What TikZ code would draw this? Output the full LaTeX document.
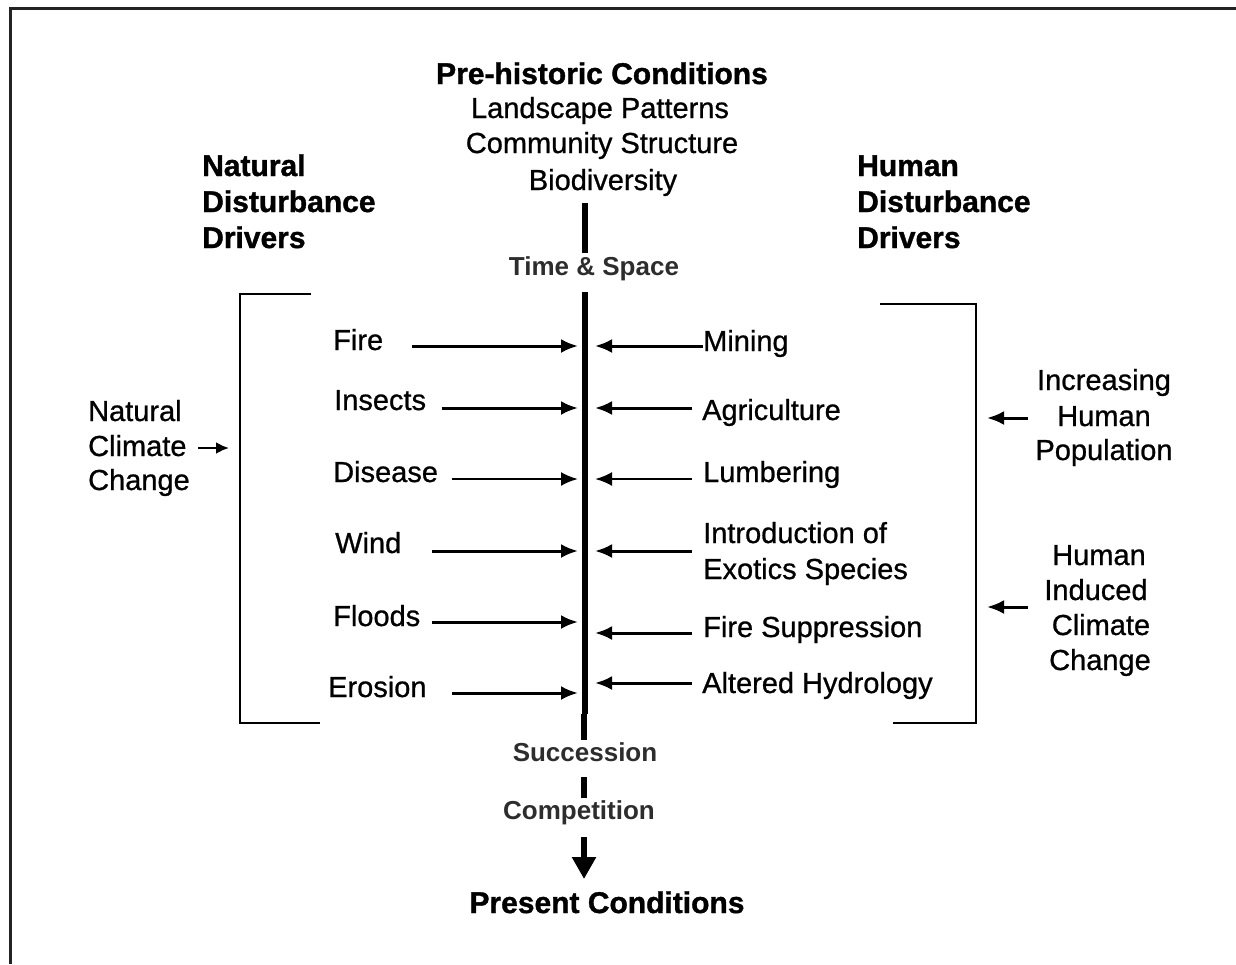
\documentclass[tikz,border=0pt]{standalone}
\usepackage{fontspec}
\setmainfont{Liberation Sans}
\newfontfamily\lblfont{Liberation Sans}[FakeBold=0.8]
\newfontfamily\hdfont{Liberation Sans Bold}[FakeBold=1.2]
\usetikzlibrary{arrows.meta}
\definecolor{dgray}{RGB}{45,45,45}
\definecolor{frame}{RGB}{35,35,35}
\begin{document}
\begin{tikzpicture}[x=1pt,y=-1pt,
  lbl/.style={font=\lblfont\fontsize{29}{35}\selectfont, inner sep=0pt},
  hd/.style={font=\hdfont\fontsize{30}{36}\selectfont, inner sep=0pt},
  sm/.style={font=\fontsize{26}{30}\selectfont\bfseries, text=dgray, inner sep=0pt},
  arr/.style={line width=3pt, -{Latex[length=17pt,width=14pt]}},
  spine/.style={line width=6pt},
  brk/.style={line width=2pt}]
\useasboundingbox (0,0) rectangle (1236,964);
% frame (top and left edges)
\draw[line width=3pt, frame] (10,964) -- (10,8) -- (1236,8);

% top block
\node[hd, anchor=base] (pre) at (602,84) {Pre-historic Conditions};
\node[lbl, anchor=base] (land) at (600,118) {Landscape Patterns};
\node[lbl, anchor=base] (comm) at (602,153) {Community Structure};
\node[lbl, anchor=base] (bio) at (603,190) {Biodiversity};

% side headings
\node[hd, anchor=base west] (nd1) at (202,176) {Natural};
\node[hd, anchor=base west] (nd2) at (202,212) {Disturbance};
\node[hd, anchor=base west] (nd3) at (202,248) {Drivers};
\node[hd, anchor=base west] (hd1) at (857,176) {Human};
\node[hd, anchor=base west] (hd2) at (857,212) {Disturbance};
\node[hd, anchor=base west] (hd3) at (857,248) {Drivers};

% spine labels
\node[sm, anchor=base] (ts) at (594,275) {Time \& Space};
\node[sm, anchor=base] (succ) at (585,761) {Succession};
\node[sm, anchor=base] (comp) at (579,819) {Competition};
\node[hd, anchor=base] (present) at (607,913) {Present Conditions};

% spine
\coordinate (s0) at (585,203);
\coordinate (s1) at (585,253);
\coordinate (s2) at (585,292);
\coordinate (s3) at (585,714);
\coordinate (s4) at (584,714);
\coordinate (s5) at (584,740);
\coordinate (s6) at (584,777);
\coordinate (s7) at (584,798);
\coordinate (s8) at (584,837);
\coordinate (s9) at (584,879);
\draw[spine] (s0) -- (s1);
\draw[spine] (s2) -- (s3);
\draw[spine] (s4) -- (s5);
\draw[spine] (s6) -- (s7);
\draw[spine, -{Triangle[length=22pt,width=23pt]}] (s8) -- (s9);

% left labels
\node[lbl, anchor=base west] (fire) at (333,350) {Fire};
\node[lbl, anchor=base west] (insects) at (334,410) {Insects};
\node[lbl, anchor=base west] (disease) at (333,482) {Disease};
\node[lbl, anchor=base west] (wind) at (335,553) {Wind};
\node[lbl, anchor=base west] (floods) at (333,626) {Floods};
\node[lbl, anchor=base west] (erosion) at (328,697) {Erosion};

% right labels
\node[lbl, anchor=base west] (mining) at (703,351) {Mining};
\node[lbl, anchor=base west] (agri) at (702,420) {Agriculture};
\node[lbl, anchor=base west] (lumb) at (703,482) {Lumbering};
\node[lbl, anchor=base west] (intro1) at (703,543) {Introduction of};
\node[lbl, anchor=base west] (intro2) at (703,579) {Exotics Species};
\node[lbl, anchor=base west] (firesup) at (703,637) {Fire Suppression};
\node[lbl, anchor=base west] (hydro) at (702,693) {Altered Hydrology};

% left arrows
\coordinate (fireA) at (412,346);    \coordinate (fireB) at (578,346);
\coordinate (insA) at (442,408);     \coordinate (insB) at (578,408);
\coordinate (disA) at (452,479);     \coordinate (disB) at (578,479);
\coordinate (windA) at (432,551);    \coordinate (windB) at (578,551);
\coordinate (floA) at (432,622);     \coordinate (floB) at (578,622);
\coordinate (eroA) at (452,693);     \coordinate (eroB) at (578,693);
\draw[arr] (fireA) -- (fireB);
\draw[arr] (insA) -- (insB);
\draw[arr, line width=2.5pt] (disA) -- (disB);
\draw[arr] (windA) -- (windB);
\draw[arr] (floA) -- (floB);
\draw[arr] (eroA) -- (eroB);

% right arrows
\coordinate (minA) at (703,346);     \coordinate (minB) at (595,346);
\coordinate (agrA) at (692,408);     \coordinate (agrB) at (595,408);
\coordinate (lumA) at (692,479);     \coordinate (lumB) at (595,479);
\coordinate (intA) at (692,551);     \coordinate (intB) at (595,551);
\coordinate (fsA) at (692,633);      \coordinate (fsB) at (595,633);
\coordinate (hyA) at (692,683);      \coordinate (hyB) at (595,683);
\draw[arr] (minA) -- (minB);
\draw[arr] (agrA) -- (agrB);
\draw[arr, line width=2.5pt] (lumA) -- (lumB);
\draw[arr] (intA) -- (intB);
\draw[arr] (fsA) -- (fsB);
\draw[arr] (hyA) -- (hyB);

% brackets
\draw[brk] (311,294) -- (240,294) -- (240,723) -- (320,723);
\draw[brk] (880,304) -- (976,304) -- (976,723) -- (893,723);

% natural climate change
\node[lbl, anchor=base west] (ncc1) at (88,421) {Natural};
\node[lbl, anchor=base west] (ncc2) at (88,456) {Climate};
\node[lbl, anchor=base west] (ncc3) at (88,490) {Change};
\coordinate (nccA) at (198,448);
\coordinate (nccB) at (229,448);
\draw[arr, line width=2.5pt, -{Latex[length=13pt,width=12pt]}] (nccA) -- (nccB);

% increasing human population
\node[lbl, anchor=base] (ihp1) at (1104,390) {Increasing};
\node[lbl, anchor=base] (ihp2) at (1104,426) {Human};
\node[lbl, anchor=base] (ihp3) at (1104,460) {Population};
\coordinate (ihpA) at (1028,418);
\coordinate (ihpB) at (987,418);
\draw[arr] (ihpA) -- (ihpB);

% human induced climate change
\node[lbl, anchor=base] (hicc1) at (1099,565) {Human};
\node[lbl, anchor=base] (hicc2) at (1096,600) {Induced};
\node[lbl, anchor=base] (hicc3) at (1101,635) {Climate};
\node[lbl, anchor=base] (hicc4) at (1100,670) {Change};
\coordinate (hiccA) at (1028,607);
\coordinate (hiccB) at (987,607);
\draw[arr] (hiccA) -- (hiccB);
\end{tikzpicture}
\end{document}
